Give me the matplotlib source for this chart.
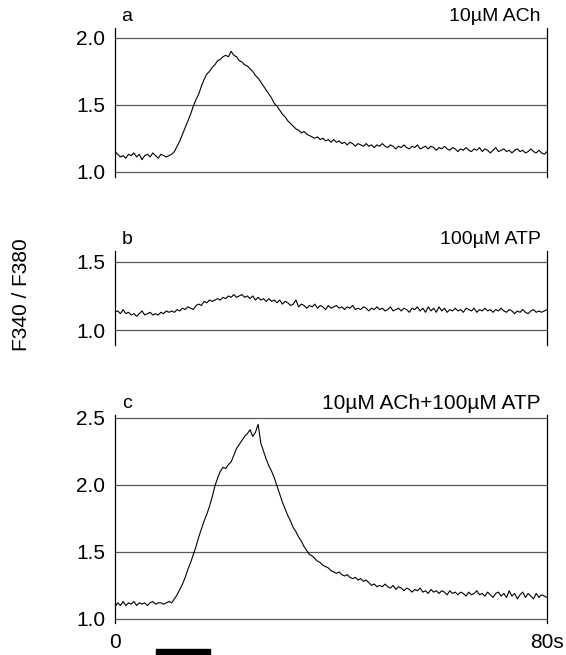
import numpy as np
import matplotlib
matplotlib.use("Agg")
import matplotlib.pyplot as plt
import matplotlib.transforms as mtransforms
from matplotlib.patches import Rectangle

trace_a = [1.15, 1.13, 1.11, 1.12, 1.10, 1.13, 1.12, 1.14, 1.11, 1.13, 1.09, 1.12,
           1.13, 1.11, 1.14, 1.12, 1.10, 1.13, 1.12, 1.11, 1.12, 1.13,
           1.15, 1.19, 1.23, 1.28, 1.33, 1.38, 1.43, 1.49, 1.54, 1.58, 1.64, 1.69,
           1.73, 1.75, 1.78, 1.80, 1.83, 1.84, 1.86, 1.87, 1.86, 1.90, 1.87, 1.86,
           1.83, 1.82, 1.80, 1.79, 1.77, 1.75, 1.72, 1.70, 1.67, 1.64, 1.61, 1.58,
           1.55, 1.51, 1.49, 1.46, 1.43, 1.41, 1.38, 1.36, 1.34, 1.32, 1.31, 1.29,
           1.30, 1.28, 1.27, 1.26, 1.25, 1.26, 1.24, 1.25, 1.23, 1.24, 1.22, 1.24,
           1.22, 1.23, 1.21, 1.22, 1.20, 1.22, 1.21, 1.19, 1.21, 1.20, 1.19, 1.21,
           1.19, 1.20, 1.18, 1.20, 1.19, 1.21, 1.19, 1.18, 1.20, 1.19, 1.17, 1.19,
           1.18, 1.20, 1.18, 1.17, 1.19, 1.18, 1.20, 1.17, 1.18, 1.19, 1.17, 1.19,
           1.18, 1.16, 1.18, 1.17, 1.19, 1.17, 1.16, 1.18, 1.17, 1.15, 1.17, 1.16,
           1.18, 1.16, 1.15, 1.17, 1.16, 1.18, 1.15, 1.17, 1.16, 1.14, 1.16, 1.18,
           1.15, 1.16, 1.17, 1.15, 1.16, 1.14, 1.16, 1.17, 1.15, 1.16, 1.14, 1.15,
           1.17, 1.15, 1.14, 1.16, 1.14, 1.13, 1.15]

trace_b = [1.13, 1.14, 1.12, 1.15, 1.12, 1.13, 1.11, 1.12, 1.10, 1.12, 1.14, 1.11,
           1.12, 1.13, 1.11, 1.12, 1.11, 1.13, 1.12, 1.14, 1.13, 1.14, 1.13, 1.15,
           1.14, 1.16, 1.15, 1.17, 1.16, 1.15, 1.18, 1.19, 1.18, 1.21, 1.20, 1.22,
           1.21, 1.22, 1.23, 1.22, 1.24, 1.23, 1.25, 1.24, 1.26, 1.24, 1.25, 1.26,
           1.24, 1.25, 1.23, 1.25, 1.22, 1.24, 1.22, 1.23, 1.21, 1.23, 1.21, 1.22,
           1.20, 1.22, 1.19, 1.21, 1.20, 1.18, 1.19, 1.22, 1.17, 1.19, 1.18, 1.16,
           1.18, 1.17, 1.19, 1.16, 1.18, 1.17, 1.15, 1.18, 1.16, 1.17, 1.18, 1.16,
           1.17, 1.15, 1.17, 1.16, 1.18, 1.15, 1.16, 1.15, 1.17, 1.16, 1.14, 1.16,
           1.15, 1.17, 1.15, 1.16, 1.14, 1.15, 1.17, 1.14, 1.15, 1.16, 1.14, 1.16,
           1.15, 1.13, 1.16, 1.15, 1.17, 1.14, 1.16, 1.13, 1.17, 1.14, 1.16, 1.13,
           1.17, 1.14, 1.16, 1.13, 1.15, 1.14, 1.16, 1.14, 1.15, 1.13, 1.16, 1.15,
           1.14, 1.16, 1.13, 1.15, 1.14, 1.16, 1.14, 1.15, 1.13, 1.15, 1.14, 1.16,
           1.14, 1.13, 1.15, 1.14, 1.12, 1.14, 1.13, 1.15, 1.13, 1.12, 1.14, 1.15,
           1.13, 1.14, 1.13, 1.14, 1.15]

trace_c = [1.09, 1.12, 1.10, 1.13, 1.10, 1.12, 1.11, 1.13, 1.10, 1.12, 1.11, 1.12,
           1.10, 1.12, 1.13, 1.11, 1.12, 1.12, 1.11, 1.12, 1.13, 1.12, 1.15, 1.18,
           1.22, 1.26, 1.31, 1.37, 1.42, 1.48, 1.54, 1.61, 1.67, 1.73, 1.78, 1.84,
           1.91, 1.99, 2.05, 2.10, 2.13, 2.12, 2.15, 2.17, 2.22, 2.27, 2.30, 2.33,
           2.36, 2.38, 2.41, 2.36, 2.39, 2.45, 2.31, 2.25, 2.19, 2.14, 2.10, 2.05,
           1.99, 1.93, 1.87, 1.82, 1.77, 1.73, 1.68, 1.65, 1.61, 1.58, 1.54, 1.51,
           1.48, 1.47, 1.45, 1.43, 1.42, 1.40, 1.39, 1.38, 1.36, 1.35, 1.34, 1.35,
           1.33, 1.32, 1.33, 1.31, 1.30, 1.31, 1.29, 1.30, 1.28, 1.29, 1.27, 1.25,
           1.26, 1.24, 1.25, 1.24, 1.26, 1.24, 1.23, 1.25, 1.22, 1.24, 1.23, 1.21,
           1.23, 1.22, 1.20, 1.22, 1.21, 1.23, 1.20, 1.21, 1.19, 1.22, 1.20, 1.21,
           1.19, 1.21, 1.20, 1.18, 1.21, 1.19, 1.20, 1.18, 1.20, 1.19, 1.17, 1.20,
           1.18, 1.19, 1.21, 1.18, 1.19, 1.17, 1.20, 1.18, 1.16, 1.19, 1.20, 1.17,
           1.19, 1.16, 1.21, 1.17, 1.19, 1.15, 1.18, 1.20, 1.16, 1.19, 1.17, 1.15,
           1.19, 1.16, 1.18, 1.17, 1.16]

panel_letters = ["a", "b", "c"]
panel_titles = ["10\u00b5M ACh", "100\u00b5M ATP", "10\u00b5M ACh+100\u00b5M ATP"]
panel_yticks = [[1.0, 1.5, 2.0], [1.0, 1.5], [1.0, 1.5, 2.0, 2.5]]
panel_ylims = [(0.96, 2.075), (0.89, 1.58), (0.97, 2.52)]
x_ticks = [0, 80]
x_ticklabels = ["0", "80s"]
stim_on, stim_off = 7.5, 17.5

plt.rcParams['font.family'] = ['Liberation Sans', 'DejaVu Sans']
plt.rcParams['font.size'] = 14

fig = plt.figure(figsize=(5.66, 6.55), dpi=100)
boxes = [[0.2032, 0.7298, 0.7633, 0.2275],
         [0.2032, 0.4733, 0.7633, 0.1435],
         [0.2032, 0.0489, 0.7633, 0.3176]]
title_sizes = [14, 14, 15]

traces = [trace_a, trace_b, trace_c]
axes = []
for i in range(3):
    ax = fig.add_axes(boxes[i])
    y = np.array(traces[i])
    t = np.linspace(0, 80, len(y))
    ax.plot(t, y, color='black', lw=0.8)
    ax.set_xlim(0, 80)
    ax.set_ylim(*panel_ylims[i])
    ax.set_yticks(panel_yticks[i])
    ax.set_yticklabels(["%.1f" % v for v in panel_yticks[i]])
    ax.grid(axis='y', color='0.35', lw=0.9)
    ax.spines['top'].set_visible(False)
    ax.spines['bottom'].set_visible(False)
    ax.spines['left'].set_linewidth(0.9)
    ax.spines['right'].set_linewidth(0.9)
    ax.tick_params(axis='y', length=0, pad=7, labelsize=15)
    if i < 2:
        ax.set_xticks([])
    else:
        ax.set_xticks(x_ticks)
        ax.set_xticklabels(x_ticklabels)
        ax.tick_params(axis='x', length=0, pad=7, labelsize=15)
    ax.annotate(panel_letters[i], xy=(0.028, 1), xycoords='axes fraction',
                xytext=(0, 8), textcoords='offset points', ha='center', va='center')
    ax.annotate(panel_titles[i], xy=(0.985, 1), xycoords='axes fraction',
                xytext=(0, 8), textcoords='offset points', ha='right', va='center',
                fontsize=title_sizes[i])
    axes.append(ax)

# stimulus bar under the bottom panel
ax = axes[2]
trans = mtransforms.blended_transform_factory(ax.transData, ax.transAxes)
ax.add_patch(Rectangle((stim_on, -0.155), stim_off - stim_on, 0.03,
                       transform=trans, color='black', clip_on=False))

fig.text(0.038, 0.55, "F340 / F380", rotation=90, ha='center', va='center',
         fontsize=15)

fig.savefig("out.png", dpi=100)
